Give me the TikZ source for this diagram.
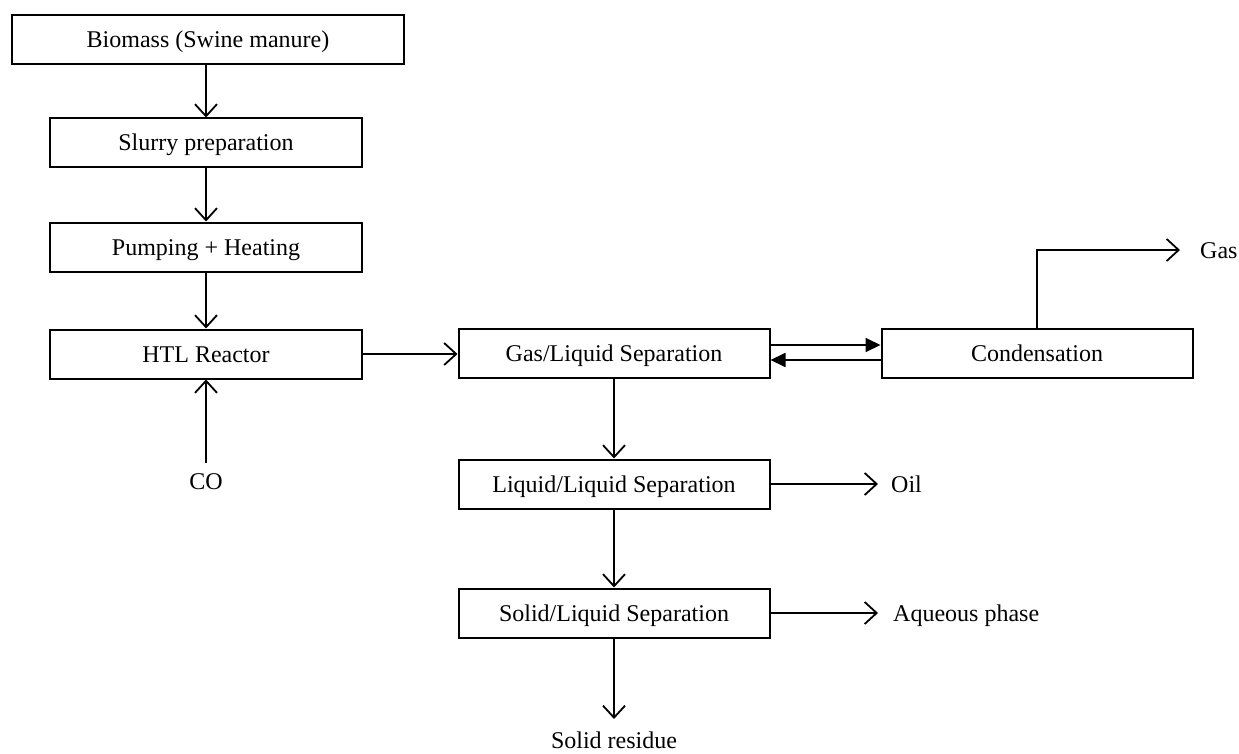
\documentclass[tikz,border=0pt]{standalone}
\usepackage{fontspec}
\setmainfont{Liberation Serif}
\usetikzlibrary{arrows.meta}
\begin{document}
\begin{tikzpicture}[x=1pt,y=-1pt,
  box/.style={draw,line width=2pt,minimum height=49pt,inner sep=0pt,text height=16pt,text depth=0pt,font=\fontsize{24}{28}\selectfont},
  lbl/.style={inner sep=0pt,text height=16pt,text depth=0pt,font=\fontsize{24}{28}\selectfont},
  flow/.style={line width=1.8pt,-{Straight Barb[length=12pt,width=22pt,line width=1.8pt]}},
  fill arrow/.style={line width=1.8pt,-{Triangle[length=15pt,width=14pt]}}]
\useasboundingbox (0,0) rectangle (1239,754);
\node[box,minimum width=392pt] (bio) at (208,40) {Biomass (Swine manure)};
\node[box,minimum width=312pt] (slurry) at (206,143) {Slurry preparation};
\node[box,minimum width=312pt] (pump) at (206,247) {Pumping + Heating};
\node[box,minimum width=312pt] (htl) at (206,354) {HTL Reactor};
\node[box,minimum width=311pt] (gl) at (614,353) {Gas/Liquid Separation};
\node[box,minimum width=311pt] (cond) at (1037,353) {Condensation};
\node[box,minimum width=311pt] (ll) at (614,484) {Liquid/Liquid Separation};
\node[box,minimum width=311pt] (sl) at (614,613) {Solid/Liquid Separation};
\node[lbl] (co) at (206,481) {CO};
\node[lbl,anchor=west] (oil) at (891,484) {Oil};
\node[lbl,anchor=west] (aq) at (893,613) {Aqueous phase};
\node[lbl,anchor=west] (gas) at (1200,250) {Gas};
\node[lbl] (res) at (614,740) {Solid residue};
\coordinate (oilend) at (878,484);
\coordinate (aqend) at (878,613);
\coordinate (gasend) at (1180,250);
\coordinate (resend) at (614,719);
\coordinate (costart) at (206,463);
\draw[flow] (bio.south -| 206,0) -- (slurry);
\draw[flow] (slurry) -- (pump);
\draw[flow] (pump) -- (htl);
\draw[flow] (costart) -- (htl.south);
\draw[flow] (htl.east) -- (gl.west |- htl.east);
\draw[fill arrow] (gl.east |- 0,345) -- (cond.west |- 0,345);
\draw[fill arrow] (cond.west |- 0,360) -- (gl.east |- 0,360);
\draw[flow] (cond.north) |- (gasend);
\draw[flow] (gl) -- (ll);
\draw[flow] (ll) -- (sl);
\draw[flow] (ll.east) -- (oilend);
\draw[flow] (sl.east) -- (aqend);
\draw[flow] (sl.south) -- (resend);
\end{tikzpicture}
\end{document}
